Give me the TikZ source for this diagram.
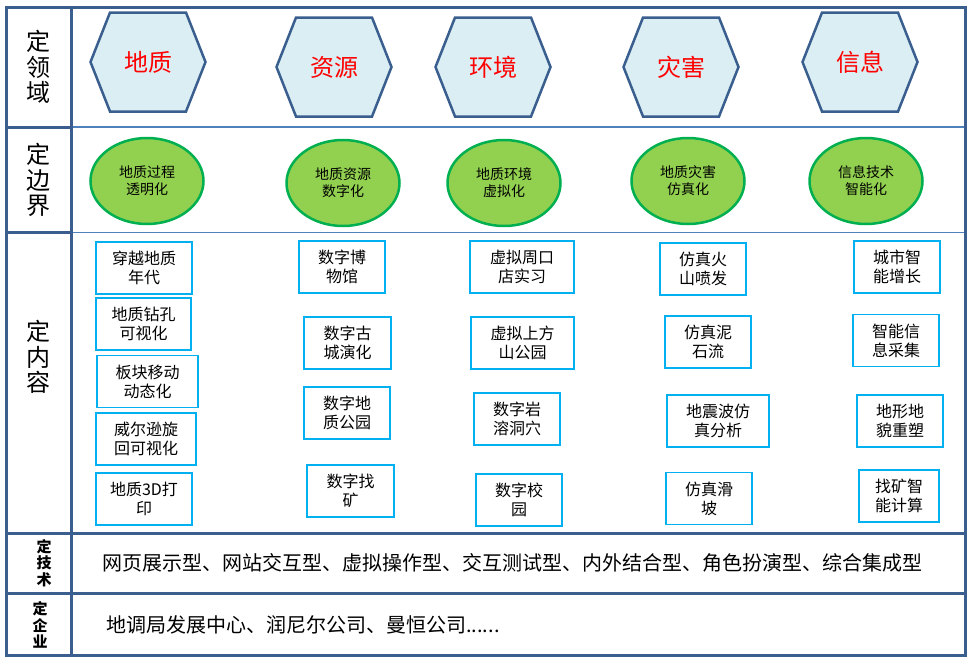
\documentclass[tikz,border=0pt]{standalone}
\usepackage{fontspec}
\setmainfont{Noto Sans CJK SC}
\usetikzlibrary{shapes.geometric,backgrounds}
\definecolor{cadre}{HTML}{3A5F8F}
\definecolor{trait}{HTML}{4F81BD}
\definecolor{hexfond}{HTML}{DAEEF3}
\definecolor{vertfond}{HTML}{92D050}
\definecolor{vertbord}{HTML}{00B050}
\definecolor{cyanbord}{HTML}{00B0F0}

\begin{document}
\begin{tikzpicture}[x=1pt,y=-1pt]
\tikzset{domaine/.style={rectangle, minimum width=115pt, minimum height=99pt, inner sep=0pt, outer sep=0pt, text=red, font=\fontsize{24}{28}\selectfont}}
\tikzset{hexbord/.style={draw=cadre, line width=2.5pt, fill=hexfond, line join=miter}}
\tikzset{frontiere/.style={draw=vertbord, line width=2.5pt, fill=vertfond, ellipse, minimum width=113pt, minimum height=86pt, inner sep=0pt, align=center, font=\fontsize{14}{17}\selectfont}}
\tikzset{contenu/.style={draw=cyanbord, line width=1.2pt, minimum height=52pt, inner sep=0pt, align=center, font=\fontsize{16}{19}\selectfont}}
\tikzset{etiquette/.style={align=center, inner sep=0pt, font=\fontsize{24}{25.5}\selectfont}}
\tikzset{petite/.style={align=center, inner sep=0pt, font=\fontsize{15}{16.5}\selectfont\bfseries}}
\tikzset{ligne/.style={anchor=west, inner sep=0pt, font=\fontsize{20}{24}\selectfont}}
\useasboundingbox (0,0) rectangle (971,662);
% grille
\draw[trait, line width=1.5pt] (71,127) -- (965,127);
\draw[trait, line width=1.5pt] (71,232.5) -- (965,232.5);
\draw[cadre, line width=3pt] (6,127) -- (71,127);
\draw[cadre, line width=3pt] (6,232.5) -- (71,232.5);
\draw[cadre, line width=3pt] (6,533) -- (965,533);
\draw[cadre, line width=3pt] (6,593) -- (965,593);
\draw[cadre, line width=3pt] (71,7) -- (71,655);
\draw[cadre, line width=3pt] (6,7) rectangle (965,655);
% colonne de gauche
\node[etiquette] (L1) at (38,67) {定\\领\\域};
\node[etiquette] (L2) at (38,180) {定\\边\\界};
\node[etiquette] (L3) at (38,357) {定\\内\\容};
\node[petite] (L4) at (44,563) {定\\技\\术};
\node[petite] (L5) at (40,625) {定\\企\\业};
% domaines
\node[domaine] (D1) at (148,62) {地质};
\node[domaine] (D2) at (334,67) {资源};
\node[domaine] (D3) at (493,67) {环境};
\node[domaine] (D4) at (681,67) {灾害};
\node[domaine] (D5) at (860,62) {信息};
\begin{scope}[on background layer]
\draw[hexbord] (D1.west) -- ([xshift=19.5pt]D1.north west) -- ([xshift=-19.5pt]D1.north east) -- (D1.east) -- ([xshift=-19.5pt]D1.south east) -- ([xshift=19.5pt]D1.south west) -- cycle;
\draw[hexbord] (D2.west) -- ([xshift=19.5pt]D2.north west) -- ([xshift=-19.5pt]D2.north east) -- (D2.east) -- ([xshift=-19.5pt]D2.south east) -- ([xshift=19.5pt]D2.south west) -- cycle;
\draw[hexbord] (D3.west) -- ([xshift=19.5pt]D3.north west) -- ([xshift=-19.5pt]D3.north east) -- (D3.east) -- ([xshift=-19.5pt]D3.south east) -- ([xshift=19.5pt]D3.south west) -- cycle;
\draw[hexbord] (D4.west) -- ([xshift=19.5pt]D4.north west) -- ([xshift=-19.5pt]D4.north east) -- (D4.east) -- ([xshift=-19.5pt]D4.south east) -- ([xshift=19.5pt]D4.south west) -- cycle;
\draw[hexbord] (D5.west) -- ([xshift=19.5pt]D5.north west) -- ([xshift=-19.5pt]D5.north east) -- (D5.east) -- ([xshift=-19.5pt]D5.south east) -- ([xshift=19.5pt]D5.south west) -- cycle;
\end{scope}
% frontieres
\node[frontiere] (F1) at (147,181) {地质过程\\透明化};
\node[frontiere] (F2) at (343,183) {地质资源\\数字化};
\node[frontiere] (F3) at (504,183) {地质环境\\虚拟化};
\node[frontiere] (F4) at (688,181) {地质灾害\\仿真化};
\node[frontiere] (F5) at (866,181) {信息技术\\智能化};
% contenus
\node[contenu, minimum width=96pt] (A1) at (144,268) {穿越地质\\年代};
\node[contenu, minimum width=95pt] (A2) at (143.5,324) {地质钻孔\\可视化};
\node[contenu, minimum width=101pt] (A3) at (147.5,381.5) {板块移动\\动态化};
\node[contenu, minimum width=100pt] (A4) at (146,439) {威尔逊旋\\回可视化};
\node[contenu, minimum width=96pt] (A5) at (144,499) {地质3D打\\印};
\node[contenu, minimum width=86pt] (B1) at (342,267) {数字博\\物馆};
\node[contenu, minimum width=87pt] (B2) at (347.5,343) {数字古\\城演化};
\node[contenu, minimum width=86pt] (B3) at (347,413) {数字地\\质公园};
\node[contenu, minimum width=87pt] (B4) at (350.5,491) {数字找\\矿};
\node[contenu, minimum width=104pt] (C1) at (522,267) {虚拟周口\\店实习};
\node[contenu, minimum width=103pt] (C2) at (522.5,343) {虚拟上方\\山公园};
\node[contenu, minimum width=86pt] (C3) at (517,419) {数字岩\\溶洞穴};
\node[contenu, minimum width=86pt] (C4) at (519,500) {数字校\\园};
\node[contenu, minimum width=86pt] (E1) at (703,269) {仿真火\\山喷发};
\node[contenu, minimum width=86pt] (E2) at (708,342) {仿真泥\\石流};
\node[contenu, minimum width=102pt] (E3) at (718,421) {地震波仿\\真分析};
\node[contenu, minimum width=86pt] (E4) at (709,498.5) {仿真滑\\坡};
\node[contenu, minimum width=86pt] (G1) at (897,267) {城市智\\能增长};
\node[contenu, minimum width=86pt] (G2) at (896,340.5) {智能信\\息采集};
\node[contenu, minimum width=86pt] (G3) at (900,421) {地形地\\貌重塑};
\node[contenu, minimum width=80pt] (G4) at (899,496) {找矿智\\能计算};
% techniques et entreprises
\node[ligne] (T1) at (102,563) {网页展示型、网站交互型、虚拟操作型、交互测试型、内外结合型、角色扮演型、综合集成型};
\node[ligne] (T2) at (106,625) {地调局发展中心、润尼尔公司、曼恒公司......};
\end{tikzpicture}
\end{document}
